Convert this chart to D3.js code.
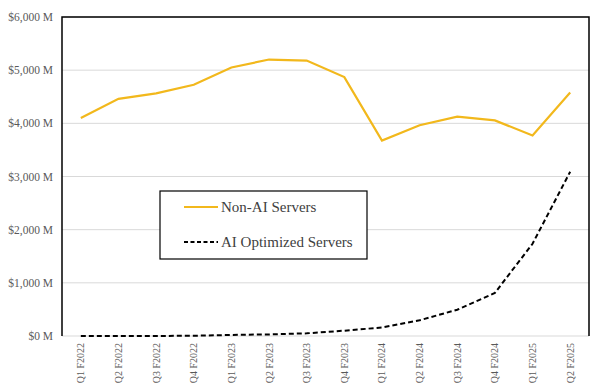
<!DOCTYPE html>
<html>
<head>
<meta charset="utf-8">
<script src="https://cdn.jsdelivr.net/npm/d3@7"></script>
<style>
  body { margin: 0; background: #fff; }
  text { font-family: "Liberation Serif", "DejaVu Serif", serif; }
</style>
</head>
<body>
<div id="chart-area"></div>
<script>
// quarters and revenue ($M)
var quarters = ["Q1 F2022", "Q2 F2022", "Q3 F2022", "Q4 F2022",
    "Q1 F2023", "Q2 F2023", "Q3 F2023", "Q4 F2023",
    "Q1 F2024", "Q2 F2024", "Q3 F2024", "Q4 F2024",
    "Q1 F2025", "Q2 F2025"];
var nonAI = [4100, 4460, 4565, 4725, 5050, 5200, 5180, 4870,
    3675, 3965, 4125, 4055, 3770, 4580];
var aiOptimized = [0, 0, 0, 5, 20, 30, 50, 100,
    160, 295, 495, 810, 1735, 3090];
var yTicks = [0, 1000, 2000, 3000, 4000, 5000, 6000];
var seriesNames = ["Non-AI Servers", "AI Optimized Servers"];

var width = 597, height = 389;
var margin = { top: 17, right: 8, bottom: 53, left: 62 };
var innerW = width - margin.left - margin.right;
var innerH = height - margin.top - margin.bottom;

var svg = d3.select("#chart-area").append("svg")
    .attr("width", width)
    .attr("height", height);

var g = svg.append("g")
    .attr("transform", "translate(" + margin.left + "," + margin.top + ")");

var x = d3.scaleBand()
    .domain(quarters)
    .range([0, innerW]);

var y = d3.scaleLinear()
    .domain([0, 6000])
    .range([innerH, 0]);

// gridlines
g.selectAll(".grid")
    .data(yTicks)
    .enter()
    .append("line")
    .attr("x1", 0)
    .attr("x2", innerW)
    .attr("y1", function(d){ return y(d); })
    .attr("y2", function(d){ return y(d); })
    .attr("stroke", "#d9d9d9")
    .attr("stroke-width", 1);

// y labels
g.selectAll(".ylab")
    .data(yTicks)
    .enter()
    .append("text")
    .attr("x", -9)
    .attr("y", function(d){ return y(d); })
    .attr("dy", "0.35em")
    .attr("text-anchor", "end")
    .attr("font-size", "11.5px")
    .attr("fill", "#595959")
    .text(function(d){ return "$" + d3.format(",")(d) + " M"; });

// x labels
g.selectAll(".xlab")
    .data(quarters)
    .enter()
    .append("text")
    .attr("transform", function(d){
        return "translate(" + (x(d) + x.bandwidth() / 2 + 3.5) + "," + (innerH + 7) + ") rotate(-90)";
    })
    .attr("text-anchor", "end")
    .attr("font-size", "10px")
    .attr("fill", "#595959")
    .text(function(d){ return d; });

// border (left, top, right)
g.append("path")
    .attr("d", "M0," + innerH + "V0H" + innerW + "V" + innerH)
    .attr("fill", "none")
    .attr("stroke", "#000")
    .attr("stroke-width", 1.5);

var line = d3.line()
    .x(function(d, i){ return x(quarters[i]) + x.bandwidth() / 2; })
    .y(function(d){ return y(d); });

g.append("path")
    .datum(nonAI)
    .attr("d", line)
    .attr("fill", "none")
    .attr("stroke", "#F2B81C")
    .attr("stroke-width", 2.2);

g.append("path")
    .datum(aiOptimized)
    .attr("d", line)
    .attr("fill", "none")
    .attr("stroke", "#000")
    .attr("stroke-width", 2)
    .attr("stroke-dasharray", "5,3");

// legend
var legend = svg.append("g").attr("transform", "translate(160,191)");
legend.append("rect")
    .attr("width", 207)
    .attr("height", 68)
    .attr("fill", "#fff")
    .attr("stroke", "#000")
    .attr("stroke-width", 1.2);

var legendStyles = [
    { color: "#F2B81C", dash: null },
    { color: "#000", dash: "4,2.5" }
];
seriesNames.forEach(function(name, i){
    var ly = 16 + i * 35;
    legend.append("line")
        .attr("x1", 24).attr("x2", 58)
        .attr("y1", ly).attr("y2", ly)
        .attr("stroke", legendStyles[i].color)
        .attr("stroke-width", 2)
        .attr("stroke-dasharray", legendStyles[i].dash);
    legend.append("text")
        .attr("x", 61)
        .attr("y", ly)
        .attr("dy", "0.33em")
        .attr("font-size", "15px")
        .attr("fill", "#404040")
        .text(name);
});
</script>
</body>
</html>
